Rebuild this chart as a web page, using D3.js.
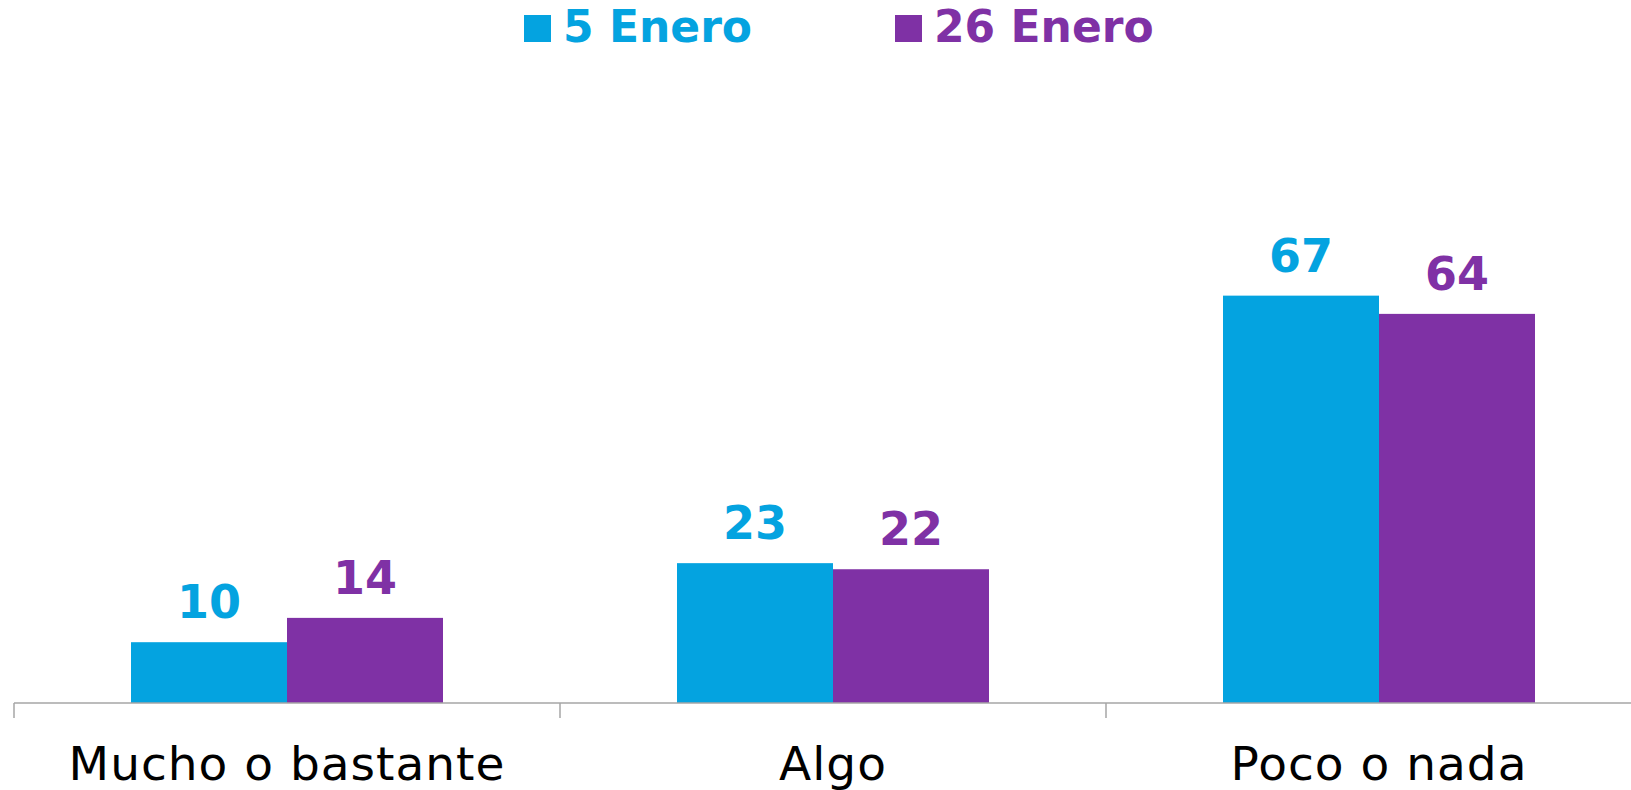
<!DOCTYPE html>
<html>
<head>
<meta charset="utf-8">
<script src="https://cdn.jsdelivr.net/npm/d3@7"></script>
<style>
  html, body { margin: 0; padding: 0; background: #ffffff; }
  svg { display: block; }
</style>
</head>
<body>
<svg id="chart" width="1631" height="790"></svg>
<script>
const categories = ["Mucho o bastante", "Algo", "Poco o nada"];
const seriesNames = ["5 Enero", "26 Enero"];
const values5Enero = [10, 23, 67];
const values26Enero = [14, 22, 64];
const seriesColors = ["#04a3e0", "#7f31a5"];

const svg = d3.select("#chart");
const W = 1631, H = 790;
const baseY = 703;
const bandStart = 14, bandW = 546;

const x0 = d3.scaleBand()
  .domain(categories)
  .range([bandStart, bandStart + bandW * categories.length])
  .paddingInner(0).paddingOuter(0);

const groupW = 312;
const x1 = d3.scaleBand()
  .domain(seriesNames)
  .range([0, groupW])
  .padding(0);

const y = d3.scaleLinear()
  .domain([0, 80])
  .range([baseY, baseY - 80 * 6.08]);

const color = d3.scaleOrdinal().domain(seriesNames).range(seriesColors);

const seriesValues = [values5Enero, values26Enero];
const rows = [];
categories.forEach((c, i) => {
  seriesNames.forEach((s, j) => {
    rows.push({ cat: c, series: s, value: seriesValues[j][i] });
  });
});

// bars
const groupOffset = (x0.bandwidth() - groupW) / 2;
svg.append("g").selectAll("rect")
  .data(rows)
  .join("rect")
  .attr("x", d => x0(d.cat) + groupOffset + x1(d.series))
  .attr("y", d => y(d.value))
  .attr("width", x1.bandwidth())
  .attr("height", d => baseY - y(d.value))
  .attr("fill", d => color(d.series));

// value labels
svg.append("g").selectAll("text")
  .data(rows)
  .join("text")
  .attr("x", d => x0(d.cat) + groupOffset + x1(d.series) + x1.bandwidth() / 2)
  .attr("y", d => y(d.value) - 24)
  .attr("text-anchor", "middle")
  .attr("font-family", "'DejaVu Sans', sans-serif")
  .attr("font-weight", 700)
  .attr("font-size", 46)
  .attr("fill", d => color(d.series))
  .text(d => d.value);

// axis
const axis = svg.append("g")
  .attr("transform", `translate(0,${baseY})`)
  .call(d3.axisBottom(x0).tickSize(0).tickPadding(0));
axis.select(".domain").remove();
axis.selectAll("text")
  .attr("y", 77)
  .attr("dy", null)
  .attr("font-family", "'DejaVu Sans', sans-serif")
  .attr("font-size", 47)
  .attr("letter-spacing", 1)
  .attr("fill", "#000000");

axis.append("line")
  .attr("x1", bandStart).attr("x2", W)
  .attr("y1", 0).attr("y2", 0)
  .attr("stroke", "#a6a6a6").attr("stroke-width", 1.5);

const boundaries = categories.map(c => x0(c));
axis.selectAll(".bound")
  .data(boundaries)
  .join("line")
  .attr("class", "bound")
  .attr("x1", d => d).attr("x2", d => d)
  .attr("y1", 0).attr("y2", 15)
  .attr("stroke", "#a6a6a6").attr("stroke-width", 1.5);

// legend
const legendX = [524, 895];
const legend = svg.append("g");
seriesNames.forEach((s, i) => {
  legend.append("rect")
    .attr("x", legendX[i]).attr("y", 15)
    .attr("width", 27).attr("height", 27)
    .attr("fill", color(s));
  legend.append("text")
    .attr("x", legendX[i] + 39).attr("y", 42)
    .attr("font-family", "'DejaVu Sans', sans-serif")
    .attr("font-weight", 700)
    .attr("font-size", 44)
    .attr("fill", color(s))
    .text(s);
});
</script>
</body>
</html>
